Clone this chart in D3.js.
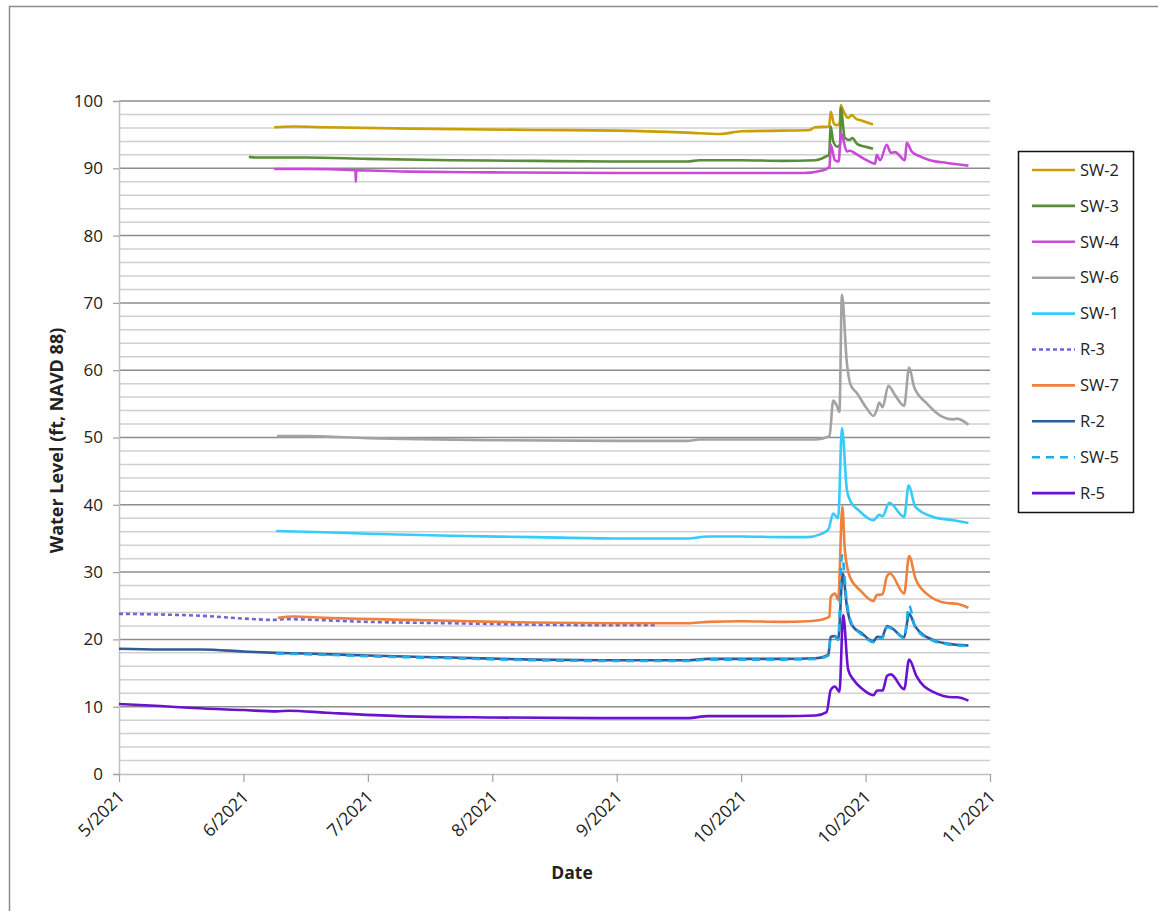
<!DOCTYPE html>
<html>
<head>
<meta charset="utf-8">
<script src="https://cdn.jsdelivr.net/npm/d3@7"></script>
<style>
  body { margin: 0; background: #fff; }
  text { font-family: "Open Sans", "Noto Sans", sans-serif; fill: #222; }
</style>
</head>
<body>
<div id="chart"></div>
<script>
// days since 5/1/2021, water level (ft)
var sw2 = [[37.4,96.1],[42,96.2],[50,96.1],[70,95.9],[100,95.7],[120,95.6],[137,95.3],[145,95.1],[150,95.5],[160,95.6],[166.6,95.7],[167.8,96.1],[171.2,96.2],[171.6,98.4],[172.4,96.6],[173.2,96.4],[173.8,96.8],[174.0,99.4],[174.6,98.6],[175.8,97.5],[176.7,97.9],[177.6,97.4],[179,97.1],[181.8,96.5]];
var sw3 = [[31.3,91.7],[33,91.6],[40,91.6],[45,91.6],[60,91.4],[80,91.2],[100,91.1],[120,91.0],[137,91.0],[140,91.2],[150,91.2],[160,91.1],[168,91.2],[170.6,91.8],[171.2,92.0],[171.6,96.2],[172.2,94.0],[173.2,93.2],[173.9,93.6],[174.0,99.0],[175.0,94.5],[176.2,94.2],[176.8,94.5],[178,93.6],[180,93.2],[181.8,92.9]];
var sw4 = [[37.4,89.9],[45,89.9],[57,89.7],[57.1,88.0],[57.2,89.7],[70,89.5],[90,89.4],[120,89.3],[150,89.3],[165,89.3],[169.8,89.7],[171.3,90.2],[171.6,93.5],[172.6,91.2],[173.5,91.0],[174.1,95.2],[175.5,92.5],[176.2,92.6],[177.5,92.2],[180,91.3],[182.3,90.7],[182.7,92.0],[183.5,91.2],[185.1,93.5],[186.1,92.3],[187.1,92.4],[189.5,91.2],[189.9,93.8],[191.1,92.5],[193,91.8],[195.5,91.2],[199.6,90.8],[202,90.6],[204.8,90.4]];
var sw6 = [[38.1,50.2],[45,50.2],[60,49.9],[90,49.6],[120,49.5],[137,49.5],[140,49.7],[160,49.7],[168,49.7],[171.3,50.2],[172.2,55.5],[173.0,54.8],[173.7,53.8],[174.3,71.2],[175.5,61.0],[176.4,57.8],[177.9,56.6],[180.3,54.3],[181.9,53.2],[182.7,54.1],[183.3,55.2],[184.1,54.5],[185.5,57.7],[187.1,56.3],[189.3,54.7],[190.5,60.4],[191.7,57.5],[194.7,55.1],[197.9,53.3],[201.2,52.7],[202.0,52.8],[204.8,51.9]];
var sw1 = [[37.9,36.1],[45,36.0],[60,35.7],[80,35.4],[100,35.2],[120,35.0],[137,35.0],[142,35.3],[150,35.3],[160,35.2],[166,35.2],[169,35.6],[171.0,36.3],[172.2,38.7],[173.4,38.0],[174.3,51.4],[175.5,42.2],[176.4,40.5],[178.3,39.2],[181.9,37.7],[183.3,38.5],[184.1,38.3],[185.7,40.3],[189.3,38.2],[190.4,42.9],[192.0,39.7],[196.3,38.2],[201.2,37.7],[204.8,37.3]];
var r3 = [[0,23.8],[10,23.7],[20,23.5],[30,23.1],[37.5,22.9],[40,23.0],[60,22.6],[80,22.4],[100,22.2],[120,22.1],[129.7,22.1]];
var sw7 = [[38.3,23.2],[42,23.4],[50,23.2],[70,22.9],[100,22.5],[120,22.4],[137,22.4],[142,22.6],[150,22.7],[160,22.6],[166,22.7],[169.8,23.0],[171.3,23.4],[171.6,26.3],[172.6,26.8],[173.4,25.9],[174.4,39.7],[175.0,33.3],[176.2,29.3],[178.7,27.3],[181.9,25.7],[182.7,26.6],[184.1,26.7],[185.1,29.3],[185.9,29.8],[189.3,26.8],[190.5,32.4],[192.0,29.1],[194.7,26.8],[199.6,25.4],[202.0,25.3],[204.8,24.7]];
var r2 = [[0,18.6],[10,18.5],[20,18.5],[30,18.2],[38,18.0],[45,17.9],[60,17.6],[80,17.3],[100,17.0],[120,16.9],[137,16.9],[142,17.1],[160,17.1],[168,17.2],[171.0,17.7],[171.6,20.4],[172.6,20.5],[173.4,20.0],[174.5,29.8],[175.5,24.9],[176.7,22.1],[179.1,20.9],[181.9,19.7],[182.8,20.4],[183.9,20.3],[185.2,22.0],[186.3,21.7],[189.3,20.3],[190.5,23.8],[192.0,21.9],[196.3,19.9],[199.6,19.4],[204.8,19.1]];
var sw5 = [[37.9,17.9],[45,17.8],[60,17.5],[80,17.2],[100,16.9],[120,16.8],[137,16.8],[142,17.0],[160,17.0],[168,17.1],[171.0,17.6],[171.6,20.2],[172.6,20.4],[173.4,19.9],[174.3,32.5],[175.5,25.5],[176.7,22.3],[179.1,20.7],[181.9,19.6],[182.8,20.2],[183.9,20.1],[185.2,21.8],[186.3,21.6],[189.3,20.2],[190.5,25.0],[192.0,21.7],[196.3,19.8],[199.6,19.3],[204.8,19.0]];
var r5 = [[0,10.4],[10,10.1],[18,9.8],[30,9.5],[38,9.3],[41,9.4],[50,9.1],[67.7,8.6],[90,8.4],[116,8.3],[137,8.3],[142,8.6],[160,8.6],[168,8.7],[170.6,9.2],[171.6,12.5],[172.6,13.0],[173.7,12.2],[174.6,23.6],[175.8,15.5],[177.1,14.0],[179.1,12.7],[181.9,11.7],[182.8,12.4],[184.1,12.4],[185.2,14.6],[186.1,14.8],[189.3,12.6],[190.5,17.0],[192.3,14.5],[196.3,12.2],[201.2,11.4],[202.0,11.4],[204.8,10.9]];

var seriesNames = ["SW-2", "SW-3", "SW-4", "SW-6", "SW-1", "R-3", "SW-7", "R-2", "SW-5", "R-5"];
var seriesData = [sw2, sw3, sw4, sw6, sw1, r3, sw7, r2, sw5, r5];
var seriesColors = ["#cc9f00", "#5a8d3a", "#c94ad9", "#a3a3a3", "#36ccfa", "#6b68d6", "#f0803c", "#2f5c99", "#1daeee", "#6a12cf"];
var seriesDash = [null, null, null, null, null, "4,3", null, null, "8,6", null];

var xTickDays = [0, 30, 60, 90, 120, 150, 180, 210];
var xTickLabels = ["5/2021", "6/2021", "7/2021", "8/2021", "9/2021", "10/2021", "10/2021", "11/2021"];

var W = 1158, H = 911;
var margin = { top: 101, left: 119 },
    width = 871,
    height = 673;

var svg = d3.select("#chart").append("svg")
    .attr("width", W)
    .attr("height", H);

// outer frame (only top and left visible)
svg.append("rect")
    .attr("x", 9.5).attr("y", 6.5)
    .attr("width", W + 20).attr("height", H + 20)
    .attr("fill", "none")
    .attr("stroke", "#8c8c8c")
    .attr("stroke-width", 1.5);

var g = svg.append("g")
    .attr("transform", "translate(" + margin.left + "," + margin.top + ")");

var x = d3.scaleLinear().domain([0, 210]).range([0, width]);
var y = d3.scaleLinear().domain([0, 100]).range([height, 0]);

// minor gridlines
g.append("g")
    .selectAll("line")
    .data(d3.range(2, 100, 2).filter(function (v) { return v % 10 !== 0; }))
    .enter().append("line")
    .attr("x1", 0).attr("x2", width)
    .attr("y1", function (d) { return y(d); })
    .attr("y2", function (d) { return y(d); })
    .attr("stroke", "#d0d0d0")
    .attr("stroke-width", 1.5);

// major gridlines
g.append("g")
    .selectAll("line")
    .data(d3.range(10, 101, 10))
    .enter().append("line")
    .attr("x1", 0).attr("x2", width)
    .attr("y1", function (d) { return y(d); })
    .attr("y2", function (d) { return y(d); })
    .attr("stroke", "#8c8c8c")
    .attr("stroke-width", 1.5);

// y axis
var yAxis = d3.axisLeft(y).tickValues(d3.range(0, 101, 10)).tickSize(6).tickPadding(10);
var yg = g.append("g").call(yAxis);
yg.select(".domain").attr("stroke", "#c0c0c0").attr("stroke-width", 1.5);
yg.selectAll(".tick line").attr("stroke", "#a0a0a0").attr("stroke-width", 1.2);
yg.selectAll(".tick text")
    .style("font-family", "'Open Sans', sans-serif")
    .style("font-size", "17px")
    .attr("fill", "#222");

// x axis
var xAxis = d3.axisBottom(x).tickValues(xTickDays).tickSizeInner(8).tickSizeOuter(0)
    .tickFormat(function (d, i) { return xTickLabels[i]; });
var xg = g.append("g").attr("transform", "translate(0," + height + ")").call(xAxis);
xg.select(".domain").attr("stroke", "#c0c0c0").attr("stroke-width", 1.5);
xg.selectAll(".tick line").attr("stroke", "#a0a0a0").attr("stroke-width", 1.2);
xg.selectAll(".tick text")
    .style("font-family", "'Open Sans', sans-serif")
    .style("font-size", "17.5px")
    .attr("fill", "#222")
    .attr("text-anchor", "end")
    .attr("dy", null)
    .attr("y", 0)
    .attr("transform", "translate(6,24) rotate(-45)");

// axis titles
svg.append("text")
    .attr("transform", "translate(63," + (margin.top + height / 2 + 3) + ") rotate(-90)")
    .attr("text-anchor", "middle")
    .style("font-size", "18px")
    .style("font-weight", "bold")
    .text("Water Level (ft, NAVD 88)");

svg.append("text")
    .attr("x", 572).attr("y", 879)
    .attr("text-anchor", "middle")
    .style("font-size", "17.5px")
    .style("font-weight", "bold")
    .text("Date");

// lines
var line = d3.line()
    .curve(d3.curveMonotoneX)
    .x(function (d) { return x(d[0]); })
    .y(function (d) { return y(d[1]); });

seriesData.forEach(function (data, i) {
    g.append("path")
        .datum(data)
        .attr("d", line)
        .attr("fill", "none")
        .attr("stroke", seriesColors[i])
        .attr("stroke-width", 2.6)
        .attr("stroke-linejoin", "round")
        .attr("stroke-dasharray", seriesDash[i]);
});

// legend
var legend = svg.append("g").attr("transform", "translate(1018,151)");
legend.append("rect")
    .attr("x", 0.5).attr("y", 0.5)
    .attr("width", 115).attr("height", 361)
    .attr("fill", "#fff")
    .attr("stroke", "#111")
    .attr("stroke-width", 1.5);

var items = legend.selectAll(".item")
    .data(seriesNames)
    .enter().append("g")
    .attr("class", "item")
    .attr("transform", function (d, i) { return "translate(0," + (19 + i * 35.9) + ")"; });

items.append("line")
    .attr("x1", 14).attr("x2", 57)
    .attr("stroke", function (d, i) { return seriesColors[i]; })
    .attr("stroke-width", 2.6)
    .attr("stroke-dasharray", function (d, i) { return seriesDash[i]; });

items.append("text")
    .attr("x", 62).attr("dy", "0.35em")
    .style("font-size", "16.5px")
    .text(function (d) { return d; });
</script>
</body>
</html>
